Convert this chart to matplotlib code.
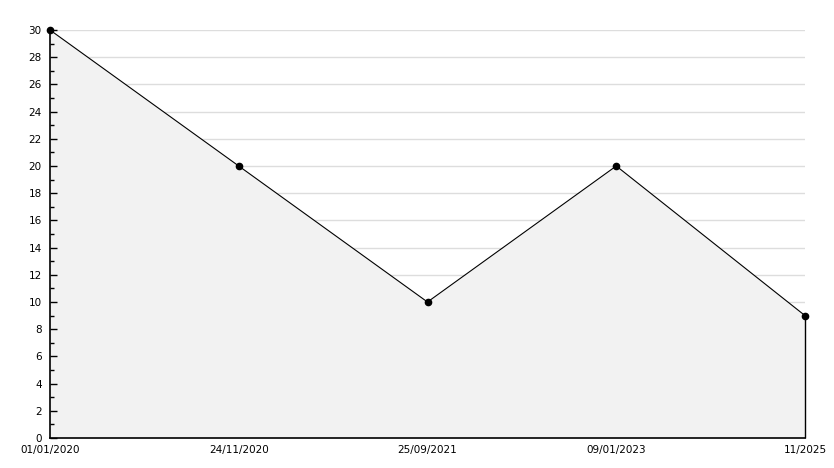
import numpy as np
import matplotlib.pyplot as plt
from matplotlib.ticker import MultipleLocator

# Donnees du graphe
dates = ['01/01/2020', '24/11/2020', '25/09/2021', '09/01/2023', '11/2025']
values = [30, 20, 10, 20, 9]

x = np.arange(len(dates))

fig = plt.figure(figsize=(8.34, 4.68), dpi=100)
ax = fig.add_axes([50/834, 30/468, 755/834, 408/468])

ax.set_xlim(x[0], x[-1])
ax.set_ylim(0, 30)
ax.yaxis.set_major_locator(MultipleLocator(2))
ax.yaxis.set_minor_locator(MultipleLocator(1))

# Grille horizontale sous la surface
grid_y = np.arange(2, 31, 2)
ax.hlines(grid_y, x[0], x[-1], color='#dddddd', linewidth=1, zorder=0.2)

# Surface et courbe
ax.fill_between(x, values, 0, color='#f2f2f2', linewidth=0, zorder=0.3)
ax.plot(x, values, color='black', linewidth=0.8, zorder=3)
ax.vlines(x[-1], 0, values[-1], color='black', linewidth=1, zorder=3, clip_on=False)
ax.plot(x, values, linestyle='none', marker='o', markersize=4.5, color='black', zorder=4, clip_on=False)

ax.set_xticks(x)
ax.set_xticklabels(dates)

for s in ['top', 'right']:
    ax.spines[s].set_visible(False)
ax.spines['left'].set_linewidth(1.2)
ax.spines['bottom'].set_linewidth(1.2)

ax.tick_params(axis='y', which='major', direction='in', length=5, width=1, labelsize=7.5, pad=6)
ax.tick_params(axis='y', which='minor', direction='in', length=3, width=1)
ax.tick_params(axis='x', which='major', length=0, labelsize=7.5, pad=5)

fig.savefig('out.png', dpi=100)
